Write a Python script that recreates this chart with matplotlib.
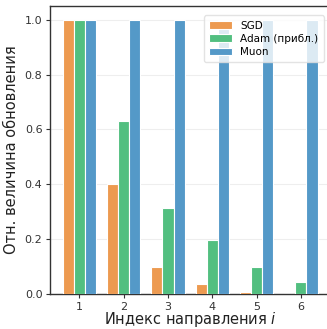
import matplotlib
matplotlib.use("Agg")
import matplotlib.pyplot as plt
import numpy as np

directions = [1, 2, 3, 4, 5, 6]
sgd = [1.0, 0.40, 0.10, 0.037, 0.008, 0.002]
adam = [1.0, 0.63, 0.315, 0.198, 0.099, 0.044]
muon = [1.0, 1.0, 1.0, 1.0, 1.0, 1.0]
labels = ["SGD", "Adam (прибл.)", "Muon"]

colors = ["#ED9A50", "#52BF80", "#5499C8"]

fig = plt.figure(figsize=(3.27, 3.29), dpi=100)
ax = fig.add_axes([0.153, 0.106, 0.857, 0.876])

x = np.array(directions)
w = 0.25
for off, vals, lab, c in zip([-w, 0, w], [sgd, adam, muon], labels, colors):
    ax.bar(x + off, vals, width=w, color=c, edgecolor="white", linewidth=0.8, label=lab, zorder=3)

ax.set_xticks(directions)
ax.set_yticks([0.0, 0.2, 0.4, 0.6, 0.8, 1.0])
ax.tick_params(labelsize=8, length=3, width=0.8, colors="#333333", pad=2.5)
ax.yaxis.grid(True, color="#eeeeee", linewidth=0.8, zorder=0)
ax.set_axisbelow(True)
for s in ax.spines.values():
    s.set_color("#333333")
    s.set_linewidth(1.0)
ax.set_xlabel("Индекс направления $i$", fontsize=10.5, color="#222222", labelpad=-1)
ax.set_ylabel("Отн. величина обновления", fontsize=10.5, color="#222222", labelpad=4)
leg = ax.legend(loc="upper right", fontsize=7.5, frameon=True, bbox_to_anchor=(0.995, 0.985),
                handlelength=2.2, borderpad=0.5, labelspacing=0.3)
leg.get_frame().set_edgecolor("#dddddd")
fig.savefig("out.png", dpi=100)
